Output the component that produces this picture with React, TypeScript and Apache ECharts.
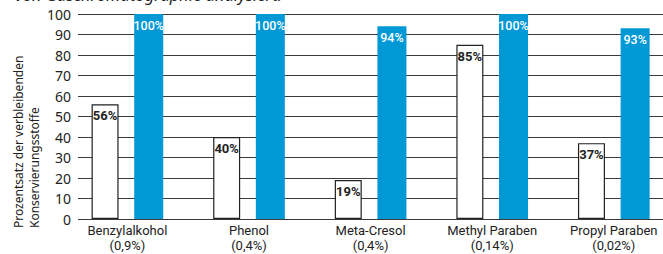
import React, { useEffect, useRef } from "react";
import * as echarts from "echarts";

const categories = [
  "Benzylalkohol\n(0,9%)",
  "Phenol\n(0,4%)",
  "Meta-Cresol\n(0,4%)",
  "Methyl Paraben\n(0,14%)",
  "Propyl Paraben\n(0,02%)",
];
const whiteValues = [56, 40, 19, 85, 37];
const blueValues = [100, 100, 94, 100, 93];
const yTitleLine1 = "Prozentsatz der verbleibenden";
const yTitleLine2 = "Konservierungsstoffe";
const topText = "von Gaschromatographie analysiert.";

const FONT = "'Noto Sans', sans-serif";
const NARROW = "Roboto, sans-serif";

const CHART_W = 690;
const VIEW_W = 663;
const VIEW_H = 254;

export default function App() {
  const ref = useRef<HTMLDivElement>(null);
  useEffect(() => {
    if (!ref.current) return;
    const chart = echarts.init(ref.current, undefined, { renderer: "svg" });
    const top = 14;
    const bottom = 35;
    chart.setOption({
      animation: false,
      backgroundColor: "#ffffff",
      grid: [
        { left: 66.6, top, bottom, width: 608 },
        { left: 78, top, bottom, right: CHART_W - VIEW_W },
      ],
      xAxis: [
        {
          type: "category",
          gridIndex: 0,
          data: categories,
          axisLine: { show: false },
          axisTick: { show: false },
          axisLabel: {
            color: "#222",
            fontFamily: NARROW,
            fontSize: 13,
            lineHeight: 15.3,
            margin: 4,
            interval: 0,
          },
        },
        { type: "value", gridIndex: 1, show: false, min: 0, max: 1 },
      ],
      yAxis: [
        { type: "value", gridIndex: 0, min: 0, max: 100, interval: 10, show: false },
        {
          type: "value",
          gridIndex: 1,
          min: 0,
          max: 100,
          interval: 10,
          axisLine: { show: false },
          axisTick: { show: false },
          axisLabel: { color: "#222", fontFamily: FONT, fontSize: 14, margin: 7 },
          splitLine: { show: true, lineStyle: { color: "#3a3a3a", width: 1.2 } },
        },
      ],
      series: [
        {
          type: "bar",
          xAxisIndex: 0,
          yAxisIndex: 0,
          data: whiteValues,
          barWidth: 27,
          barGap: "58%",
          itemStyle: { color: "#ffffff", borderColor: "#222", borderWidth: 1.2 },
          label: {
            show: true,
            position: "insideTop",
            distance: 5,
            formatter: "{c}%",
            color: "#222",
            fontFamily: NARROW,
            fontWeight: "bold",
            fontSize: 13,
          },
        },
        {
          type: "bar",
          xAxisIndex: 0,
          yAxisIndex: 0,
          data: blueValues,
          barWidth: 29,
          itemStyle: { color: "#0098d5" },
          label: {
            show: true,
            position: "insideTop",
            distance: 5,
            formatter: "{c}%",
            color: "#ffffff",
            fontFamily: NARROW,
            fontWeight: 500,
            fontSize: 12.5,
          },
        },
      ],
      graphic: [
        {
          type: "text",
          x: 15,
          y: 3,
          style: {
            text: topText,
            font: "italic 16.5px " + FONT,
            fill: "#222",
            verticalAlign: "bottom",
          },
        },
        {
          type: "text",
          x: 18,
          y: 228,
          rotation: Math.PI / 2,
          style: {
            text: yTitleLine1,
            fontFamily: FONT,
            fontSize: 12,
            fill: "#222",
            align: "left",
            verticalAlign: "middle",
          },
        },
        {
          type: "text",
          x: 34,
          y: 228,
          rotation: Math.PI / 2,
          style: {
            text: yTitleLine2,
            fontFamily: FONT,
            fontSize: 12,
            fill: "#222",
            align: "left",
            verticalAlign: "middle",
          },
        },
      ],
    });
    return () => chart.dispose();
  }, []);
  return (
    <div style={{ position: "absolute", left: 0, top: 0, width: VIEW_W, height: VIEW_H, overflow: "hidden" }}>
      <div ref={ref} style={{ width: CHART_W, height: VIEW_H }} />
    </div>
  );
}
